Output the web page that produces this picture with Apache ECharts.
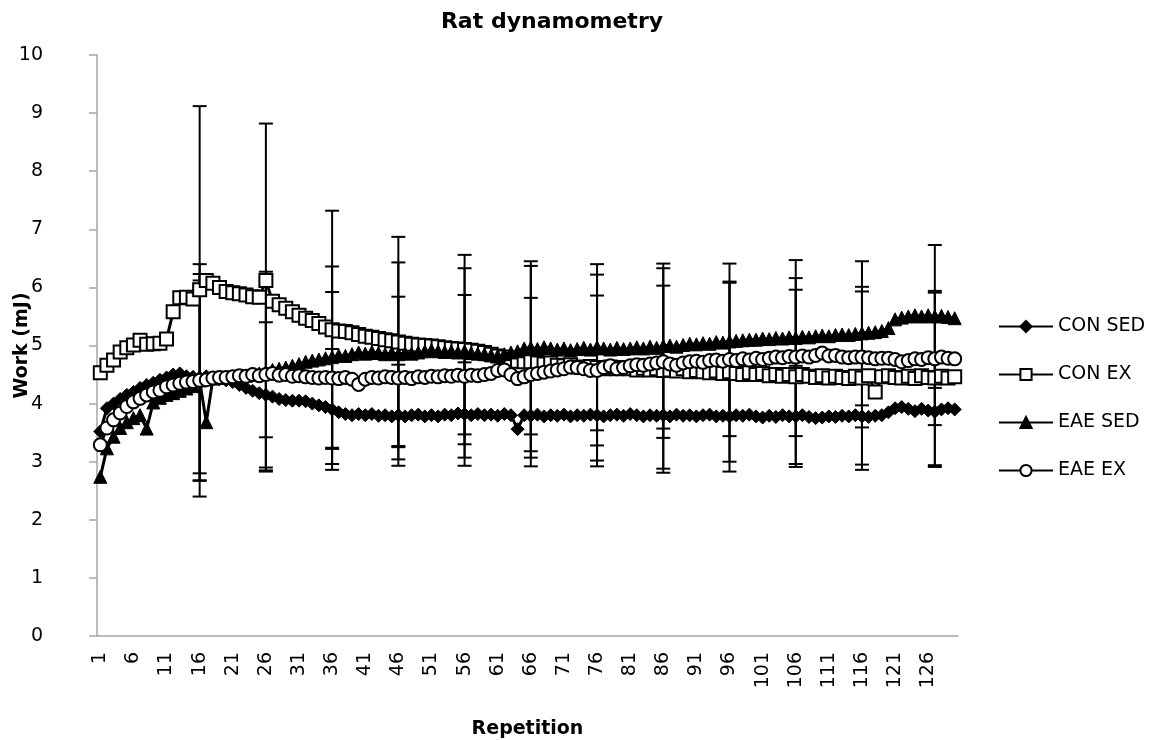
<!DOCTYPE html>
<html>
<head>
<meta charset="utf-8">
<script src="https://cdn.jsdelivr.net/npm/echarts@6/dist/echarts.min.js"></script>
<style>
html,body{margin:0;padding:0;background:#fff;}
#chart{width:1159px;height:740px;}
</style>
</head>
<body>
<div id="chart"></div>
<script>
// ---- data ----
const repCount = 130;
const repetitions = [];
for (let i = 1; i <= repCount; i++) repetitions.push(String(i));

const conSed = [
3.52,3.92,4.00,4.08,4.15,4.20,4.27,4.32,4.36,4.41,
4.45,4.50,4.52,4.47,4.46,4.45,4.47,4.45,4.42,4.40,
4.37,4.32,4.27,4.22,4.18,4.15,4.12,4.08,4.06,4.05,
4.05,4.04,4.00,3.97,3.94,3.90,3.85,3.82,3.80,3.82,
3.80,3.82,3.79,3.80,3.78,3.80,3.78,3.80,3.81,3.78,
3.80,3.78,3.81,3.80,3.83,3.82,3.80,3.82,3.80,3.81,
3.79,3.82,3.80,3.56,3.80,3.79,3.81,3.78,3.80,3.79,
3.81,3.78,3.80,3.79,3.81,3.80,3.78,3.80,3.81,3.79,
3.82,3.80,3.78,3.80,3.79,3.80,3.78,3.81,3.79,3.80,
3.78,3.80,3.81,3.78,3.79,3.78,3.80,3.79,3.81,3.78,
3.76,3.79,3.77,3.80,3.78,3.78,3.80,3.77,3.75,3.76,
3.78,3.77,3.79,3.78,3.80,3.78,3.77,3.79,3.80,3.85,
3.92,3.94,3.91,3.87,3.91,3.88,3.86,3.90,3.92,3.90
];

const conEx = [
4.53,4.66,4.75,4.89,4.96,5.01,5.09,5.02,5.03,5.04,
5.11,5.58,5.82,5.83,5.80,5.96,6.12,6.07,6.00,5.93,
5.91,5.89,5.87,5.84,5.83,6.12,5.76,5.70,5.64,5.58,
5.52,5.47,5.43,5.38,5.32,5.27,5.25,5.24,5.22,5.19,
5.16,5.14,5.12,5.10,5.08,5.06,5.04,5.02,5.01,5.00,
4.99,4.98,4.96,4.95,4.94,4.93,4.92,4.90,4.88,4.85,
4.82,4.80,4.76,4.73,4.72,4.72,4.70,4.68,4.70,4.66,
4.65,4.67,4.63,4.62,4.64,4.62,4.60,4.63,4.60,4.62,
4.60,4.58,4.61,4.58,4.60,4.57,4.58,4.56,4.60,4.55,
4.57,4.55,4.53,4.56,4.52,4.55,4.52,4.50,4.53,4.50,
4.52,4.48,4.50,4.47,4.50,4.46,4.50,4.47,4.45,4.48,
4.44,4.47,4.45,4.43,4.47,4.44,4.48,4.20,4.46,4.48,
4.45,4.44,4.47,4.43,4.48,4.45,4.44,4.47,4.44,4.46
];

const eaeSed = [
2.74,3.23,3.43,3.58,3.68,3.75,3.80,3.57,4.02,4.10,
4.15,4.18,4.22,4.26,4.30,4.40,3.68,4.43,4.44,4.45,
4.45,4.47,4.48,4.50,4.52,4.55,4.58,4.60,4.62,4.65,
4.68,4.72,4.74,4.76,4.78,4.80,4.83,4.82,4.85,4.88,
4.86,4.89,4.87,4.85,4.87,4.85,4.87,4.86,4.88,4.90,
4.92,4.90,4.89,4.90,4.88,4.90,4.87,4.86,4.85,4.83,
4.82,4.85,4.88,4.90,4.95,4.96,4.94,4.97,4.95,4.93,
4.95,4.92,4.94,4.96,4.93,4.97,4.95,4.93,4.96,4.94,
4.95,4.97,4.95,4.98,4.96,4.99,5.00,4.98,5.01,5.03,
5.02,5.04,5.03,5.06,5.05,5.07,5.08,5.09,5.10,5.10,
5.12,5.11,5.13,5.12,5.14,5.13,5.15,5.14,5.16,5.17,
5.16,5.18,5.19,5.18,5.20,5.21,5.22,5.23,5.25,5.30,
5.45,5.48,5.50,5.52,5.50,5.52,5.50,5.51,5.49,5.47
];

const eaeEx = [
3.29,3.58,3.72,3.84,3.95,4.03,4.09,4.15,4.20,4.23,
4.29,4.32,4.35,4.37,4.38,4.40,4.41,4.44,4.45,4.45,
4.46,4.48,4.47,4.50,4.48,4.50,4.52,4.49,4.50,4.47,
4.48,4.46,4.45,4.44,4.45,4.44,4.43,4.45,4.42,4.33,
4.42,4.45,4.44,4.46,4.45,4.44,4.45,4.43,4.46,4.45,
4.47,4.46,4.48,4.47,4.49,4.47,4.49,4.48,4.50,4.52,
4.57,4.58,4.50,4.43,4.46,4.50,4.52,4.54,4.56,4.58,
4.60,4.63,4.62,4.60,4.57,4.57,4.62,4.65,4.60,4.62,
4.65,4.67,4.66,4.68,4.70,4.72,4.68,4.66,4.70,4.72,
4.73,4.71,4.74,4.75,4.73,4.76,4.74,4.77,4.75,4.78,
4.76,4.78,4.80,4.79,4.81,4.80,4.82,4.80,4.83,4.87,
4.82,4.83,4.80,4.79,4.80,4.80,4.79,4.77,4.78,4.78,
4.76,4.72,4.74,4.77,4.76,4.79,4.77,4.80,4.78,4.77
];

// error bars (SD) at selected repetitions
const errReps = [16, 26, 36, 46, 56, 66, 76, 86, 96, 106, 116, 127];
const conSedSd = [1.78, 1.25, 1.04, 0.87, 0.89, 0.87, 0.88, 0.92, 0.95, 0.87, 0.92, 0.95];
const conExSd  = [3.16, 2.70, 2.05, 1.81, 1.63, 1.65, 1.60, 1.76, 1.55, 1.50, 1.49, 1.50];
const eaeSedSd = [2.00, 1.72, 1.56, 1.58, 1.43, 1.49, 1.43, 1.42, 1.34, 1.34, 1.24, 1.23];
const eaeExSd  = [1.72, 1.65, 1.48, 1.40, 1.40, 1.32, 1.29, 1.31, 1.32, 1.36, 1.21, 1.14];

const seriesNames = ['CON SED', 'CON EX', 'EAE SED', 'EAE EX'];
const yTicks = [0,1,2,3,4,5,6,7,8,9,10];

// ---- chart ----
const FONT = 'DejaVu Sans';
const chart = echarts.init(document.getElementById('chart'));

function errData(values, sds) {
  return errReps.map((r, i) => {
    const v = values[r - 1];
    return [r - 1, v - sds[i], v + sds[i]];
  });
}

function errSeries(values, sds) {
  return {
    type: 'custom',
    z: 1,
    silent: true,
    data: errData(values, sds),
    encode: { x: 0, y: [1, 2] },
    renderItem: function (params, api) {
      const xi = api.value(0);
      const lo = api.coord([xi, api.value(1)]);
      const hi = api.coord([xi, api.value(2)]);
      const cw = 7;
      const st = { stroke: '#000', lineWidth: 2 };
      return {
        type: 'group',
        children: [
          { type: 'line', shape: { x1: lo[0], y1: lo[1], x2: hi[0], y2: hi[1] }, style: st },
          { type: 'line', shape: { x1: lo[0] - cw, y1: lo[1], x2: lo[0] + cw, y2: lo[1] }, style: st },
          { type: 'line', shape: { x1: hi[0] - cw, y1: hi[1], x2: hi[0] + cw, y2: hi[1] }, style: st }
        ]
      };
    }
  };
}

function lineSeries(name, values, symbol, filled, size) {
  return {
    name: name,
    type: 'line',
    z: 3,
    data: values,
    symbol: symbol,
    symbolSize: size,
    showAllSymbol: true,
    animation: false,
    lineStyle: { color: '#000', width: 3 },
    itemStyle: filled
      ? { color: '#000', borderColor: '#000', borderWidth: 1 }
      : { color: '#fff', borderColor: '#000', borderWidth: 2 },
    emphasis: { disabled: true }
  };
}

const option = {
  animation: false,
  backgroundColor: '#fff',
  title: {
    text: 'Rat dynamometry',
    left: 547,
    textAlign: 'center',
    top: 6,
    textStyle: { fontFamily: FONT, fontSize: 22, fontWeight: 'bold', color: '#000' }
  },
  grid: { left: 97, right: 201, top: 55, bottom: 104, containLabel: false, outerBoundsMode: 'none' },
  legend: {
    orient: 'vertical',
    left: 998,
    top: 317,
    padding: 0,
    itemWidth: 54,
    itemHeight: 14,
    itemGap: 29,
    data: seriesNames,
    textStyle: { fontFamily: FONT, fontSize: 19, color: '#000', padding: [0, 0, 0, 0] }
  },
  xAxis: {
    type: 'category',
    data: repetitions,
    boundaryGap: true,
    name: 'Repetition',
    nameLocation: 'middle',
    nameGap: 84,
    nameMoveOverlap: false,
    nameTextStyle: { fontFamily: FONT, fontSize: 19, fontWeight: 'bold', color: '#000' },
    axisLine: { lineStyle: { color: '#a6a6a6', width: 1.5 } },
    axisTick: { show: false },
    axisLabel: {
      interval: 4,
      rotate: 90,
      margin: 16,
      fontFamily: FONT,
      fontSize: 19,
      color: '#000'
    },
    splitLine: { show: false }
  },
  yAxis: {
    type: 'value',
    min: 0,
    max: 10,
    interval: 1,
    name: 'Work (mJ)',
    nameLocation: 'middle',
    nameGap: 65,
    nameMoveOverlap: false,
    nameTextStyle: { fontFamily: FONT, fontSize: 19, fontWeight: 'bold', color: '#000' },
    axisLine: { show: true, lineStyle: { color: '#a6a6a6', width: 1.5 } },
    axisTick: { show: true, inside: false, length: 8, lineStyle: { color: '#a6a6a6', width: 1.5 } },
    axisLabel: {
      margin: 54,
      fontFamily: FONT,
      fontSize: 19,
      color: '#000',
      formatter: function (v) { return yTicks.indexOf(v) >= 0 ? String(v) : ''; }
    },
    splitLine: { show: false }
  },
  series: [
    errSeries(conSed, conSedSd),
    errSeries(conEx, conExSd),
    errSeries(eaeSed, eaeSedSd),
    errSeries(eaeEx, eaeExSd),
    lineSeries('CON SED', conSed, 'diamond', true, 13),
    lineSeries('CON EX', conEx, 'rect', false, 13),
    lineSeries('EAE SED', eaeSed, 'triangle', true, 13),
    lineSeries('EAE EX', eaeEx, 'circle', false, 13)
  ]
};
chart.setOption(option);
</script>
</body>
</html>
